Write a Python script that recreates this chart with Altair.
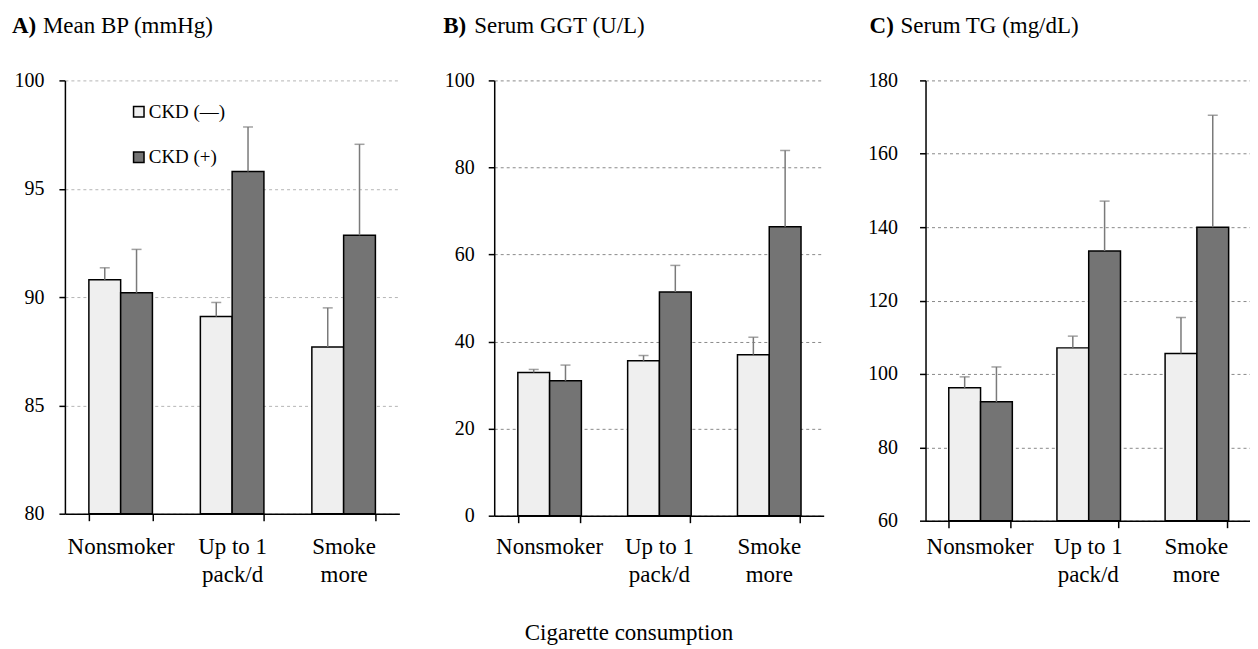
import altair as alt
import pandas as pd

# ---- data ----
categories = ["Nonsmoker", "Up to 1\npack/d", "Smoke\nmore"]
groups = ["CKD (—)", "CKD (+)"]

panel_letters = ["A)", "B)", "C)"]
panel_titles = ["Mean BP (mmHg)", "Serum GGT (U/L)", "Serum TG (mg/dL)"]

bp_neg = [90.8, 89.1, 87.7]
bp_neg_err = [0.55, 0.65, 1.8]
bp_pos = [90.2, 95.8, 92.85]
bp_pos_err = [2.0, 2.05, 4.2]

ggt_neg = [32.9, 35.6, 37.0]
ggt_neg_err = [0.7, 1.2, 4.0]
ggt_pos = [31.0, 51.4, 66.4]
ggt_pos_err = [3.6, 6.1, 17.5]

tg_neg = [96.2, 107.1, 105.6]
tg_neg_err = [3.0, 3.2, 9.8]
tg_pos = [92.4, 133.5, 140.0]
tg_pos_err = [9.5, 13.6, 30.5]

y_domains = [[80, 100], [0, 100], [60, 180]]
y_ticks = [[80, 85, 90, 95, 100], [0, 20, 40, 60, 80, 100], [60, 80, 100, 120, 140, 160, 180]]

x_title = "Cigarette consumption"

series = [
    (bp_neg, bp_neg_err, bp_pos, bp_pos_err),
    (ggt_neg, ggt_neg_err, ggt_pos, ggt_pos_err),
    (tg_neg, tg_neg_err, tg_pos, tg_pos_err),
]

# ---- styles ----
FONT = "Liberation Serif"
fills = ["#efefef", "#747474"]
widths = [335, 330, 325]
heights = [434, 436, 441]
grid_colors = ["#b5b5b5", "#8a8a8a", "#8a8a8a"]
ylab_pad = [15, 14, 22]
xlab_pad = [15, 13, 8]
letter_x = [-53, -51, -56]


def panel(i):
    neg, neg_e, pos, pos_e = series[i]
    rows = []
    for c, v, e in zip(categories, neg, neg_e):
        rows.append({"cat": c, "group": groups[0], "value": v, "upper": v + e})
    for c, v, e in zip(categories, pos, pos_e):
        rows.append({"cat": c, "group": groups[1], "value": v, "upper": v + e})
    df = pd.DataFrame(rows)

    lo = y_domains[i][0]
    yscale = alt.Scale(domain=y_domains[i], nice=False, zero=False)
    yaxis = alt.Axis(
        values=y_ticks[i], title=None, grid=True, gridDash=[3, 3],
        gridColor=grid_colors[i], gridWidth=1, domainColor="black",
        domainWidth=1.5, tickColor="black", tickWidth=1.5, tickSize=6,
        labelPadding=ylab_pad[i], labelFontSize=20, labelFont=FONT,
        labelColor="black",
    )
    xaxis = alt.Axis(
        title=None, labelAngle=0, labelExpr="split(datum.label, '\\n')",
        labelFont=FONT, labelFontSize=23, labelColor="black",
        labelLineHeight=28, labelPadding=xlab_pad[i], tickBand="extent",
        tickSize=7, tickColor="black", tickWidth=1.5, domainColor="black",
        domainWidth=1.5, grid=False, zindex=1,
    )

    base = alt.Chart(df).encode(
        x=alt.X("cat:N", sort=categories,
                scale=alt.Scale(paddingInner=0.43, paddingOuter=0.215),
                axis=xaxis),
        xOffset=alt.XOffset("group:N", sort=groups,
                            scale=alt.Scale(paddingInner=0, paddingOuter=0)),
    )
    bars = base.mark_bar(stroke="black", strokeWidth=1.5).encode(
        y=alt.Y("value:Q", scale=yscale, axis=yaxis),
        y2=alt.datum(lo),
        fill=alt.Fill("group:N", scale=alt.Scale(domain=groups, range=fills),
                      legend=None),
    )
    err = base.mark_rule(color="#7a7a7a", strokeWidth=1.5).encode(
        y=alt.Y("value:Q", scale=yscale, title=None),
        y2="upper:Q",
    )
    cap = base.mark_tick(color="#7a7a7a", thickness=1.5, size=10).encode(
        y=alt.Y("upper:Q", scale=yscale, title=None),
    )

    letter = alt.Chart(pd.DataFrame({"t": [panel_letters[i]]})).mark_text(
        font=FONT, fontSize=23, fontWeight="bold", align="left",
        baseline="middle", color="black",
    ).encode(text="t:N", x=alt.value(letter_x[i]), y=alt.value(-54))
    ttl = alt.Chart(pd.DataFrame({"t": [panel_titles[i]]})).mark_text(
        font=FONT, fontSize=23, align="left", baseline="middle", color="black",
    ).encode(text="t:N", x=alt.value(letter_x[i] + 31), y=alt.value(-54))

    layers = [bars, err, cap, letter, ttl]

    if i == 0:
        for k, g in enumerate(groups):
            sq = alt.Chart(pd.DataFrame({"g": [g]})).mark_square(
                size=110, stroke="black", strokeWidth=1.5, opacity=1,
                filled=True,
            ).encode(x=alt.value(74), y=alt.value(31.5 + 45.5 * k),
                     fill=alt.value(fills[k]))
            tx = alt.Chart(pd.DataFrame({"g": [g]})).mark_text(
                font=FONT, fontSize=19, align="left", baseline="middle",
                color="black",
            ).encode(text="g:N", x=alt.value(84), y=alt.value(31.5 + 45.5 * k))
            layers += [sq, tx]

    if i == 1:
        xt = alt.Chart(pd.DataFrame({"t": [x_title]})).mark_text(
            font=FONT, fontSize=23, align="center", baseline="middle",
            color="black",
        ).encode(text="t:N", x=alt.value(135), y=alt.value(554))
        layers.append(xt)

    return alt.layer(*layers).properties(width=widths[i], height=heights[i])


chart = alt.hconcat(panel(0), panel(1), panel(2), spacing=44).properties(
    padding={"left": 4, "top": 7, "right": 0, "bottom": 0},
    background="white",
).configure_view(stroke=None)

chart.save("out.html", embed_options={"renderer": "svg", "actions": False})
